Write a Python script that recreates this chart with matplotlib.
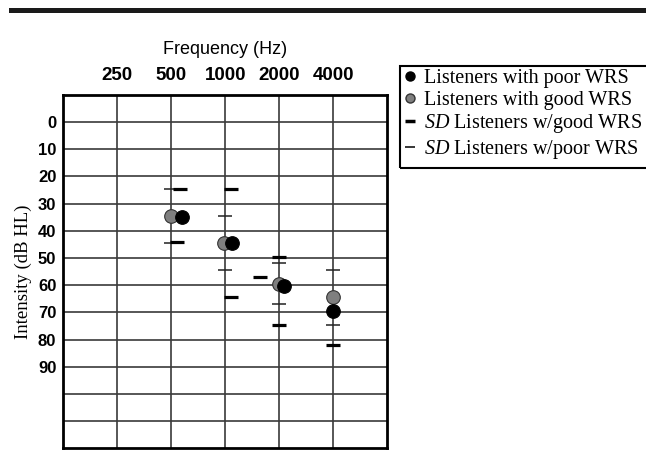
import numpy as np
import matplotlib.pyplot as plt
from matplotlib.lines import Line2D
from matplotlib.patches import Rectangle

plt.rcParams['mathtext.fontset'] = 'custom'
plt.rcParams['mathtext.it'] = 'Liberation Serif:italic'
plt.rcParams['mathtext.rm'] = 'Liberation Serif'

# frecuencias (columnas del audiograma) y etiquetas del eje y
freqs = ['250', '500', '1000', '2000', '4000']
db_labels = [0, 10, 20, 30, 40, 50, 60, 70, 80, 90]
db_grid = [0, 10, 20, 30, 40, 50, 60, 70, 80, 90, 100, 110]

# promedios por grupo
mean_freq = ['500', '1000', '2000', '4000']
good_mean = [34.5, 44.5, 59.5, 64.5]
poor_mean = [35, 44.5, 60.5, 69.5]

# marcas de desviacion estandar
sd_good_freq = ['500', '500', '1000', '1000', '2000', '2000', '2000', '4000']
sd_good = [24.5, 44, 24.5, 64.5, 49.5, 57, 74.5, 82]
sd_poor_freq = ['500', '500', '1000', '1000', '2000', '2000', '4000', '4000']
sd_poor = [24.5, 44.5, 34.5, 54.5, 52, 67, 54.5, 74.5]

# corrimientos horizontales (en columnas) como en la figura original
poor_shift = [0.2, 0.12, 0.09, 0]
good_shift = [0, -0.02, 0, 0]
sd_good_shift = [0.17, 0.11, 0.11, 0.11, 0, -0.36, 0, 0]


def posx(fs, shift=None):
    x = np.array([freqs.index(f) + 1 for f in fs], dtype=float)
    if shift is not None:
        x = x + np.array(shift)
    return x


fig = plt.figure(figsize=(6.46, 4.71), dpi=100)
ax = fig.add_axes([63.3 / 646, 1 - 448.3 / 471, (387 - 63.3) / 646, (448.3 - 94.7) / 471])

# barra negra superior
fig.patches.append(Rectangle((9 / 646, 1 - 13 / 471), 1, 5 / 471,
                             transform=fig.transFigure, color='#1a1a1a', lw=0))
# marco de la leyenda
fig.patches.append(Rectangle((400 / 646, 1 - 168 / 471), 250 / 646, 102 / 471,
                             transform=fig.transFigure, fill=False, ec='black', lw=1.5))

ax.set_xlim(0, 6)
ax.set_ylim(120, -10)

for v in range(1, 6):
    ax.axvline(v, color='#3a3a3a', lw=1.2, zorder=1)
for v in db_grid:
    ax.axhline(v, color='#3a3a3a', lw=1.2, zorder=1)

# desviaciones
ax.plot(posx(sd_poor_freq), sd_poor, ls='none', marker='_', ms=10, mew=1.1,
        color='#222222', zorder=3)
ax.plot(posx(sd_good_freq, sd_good_shift), sd_good, ls='none', marker='_', ms=9.5,
        mew=2.3, color='black', zorder=3)

# promedios
ax.plot(posx(mean_freq, good_shift), good_mean, ls='none', marker='o', ms=9.8,
        mfc='#7f7f7f', mec='#333333', mew=0.8, zorder=4)
ax.plot(posx(mean_freq, poor_shift), poor_mean, ls='none', marker='o', ms=9.8,
        mfc='black', mec='black', mew=0.8, zorder=5)

# ejes
ax.xaxis.tick_top()
ax.xaxis.set_label_position('top')
ax.set_xticks(range(1, 6))
ax.set_xticklabels(freqs, fontsize=13.5, fontweight='bold', family='Liberation Sans')
ax.tick_params(axis='x', length=0, pad=8)
ax.set_xlabel('Frequency (Hz)', fontsize=13, family='Liberation Sans', labelpad=9)

ax.set_yticks(db_grid)
ax.set_yticklabels([str(v) if v in db_labels else '' for v in db_grid],
                   fontsize=12, fontweight='bold', family='Liberation Sans')
ax.tick_params(axis='y', length=0, pad=5)
ax.set_ylabel('Intensity (dB HL)', fontsize=13.5, family='Liberation Serif', labelpad=4)

for s in ax.spines.values():
    s.set_linewidth(2.0)
    s.set_color('black')

# leyenda
handles = [
    Line2D([], [], ls='none', marker='o', ms=6.5, mfc='black', mec='black'),
    Line2D([], [], ls='none', marker='o', ms=6.5, mfc='#7f7f7f', mec='#333333'),
    Line2D([], [], ls='none', marker='_', ms=7, mew=2.5, color='black'),
    Line2D([], [], ls='none', marker='_', ms=7, mew=1.1, color='black'),
]
labels = ['Listeners with poor WRS', 'Listeners with good WRS',
          r'$\mathit{SD}$ Listeners w/good WRS', r'$\mathit{SD}$ Listeners w/poor WRS']
leg = fig.legend(handles, labels, loc='upper left', bbox_to_anchor=(396 / 646, 1 - 63 / 471),
                 frameon=False, borderaxespad=0, handlelength=0.8,
                 handletextpad=0.3, labelspacing=0.13, borderpad=0.3,
                 prop={'family': 'Liberation Serif', 'size': 14.5})

plt.savefig('out.png', dpi=100)
